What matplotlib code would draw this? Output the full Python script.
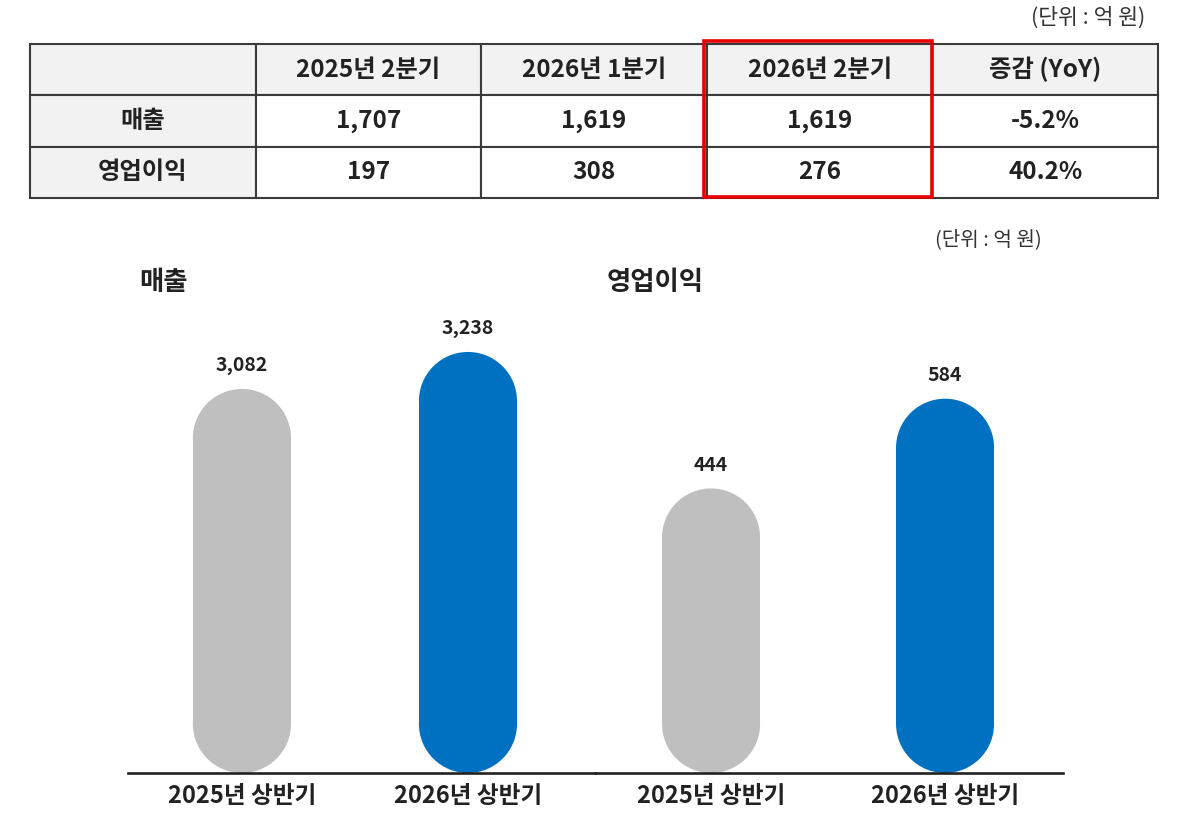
import matplotlib
matplotlib.use("Agg")
import matplotlib.pyplot as plt
from matplotlib.patches import Rectangle, Ellipse

plt.rcParams['font.family'] = ['Noto Sans CJK KR', 'DejaVu Sans']

# ---- data ----
quarters = ["2025년 2분기", "2026년 1분기", "2026년 2분기", "증감 (YoY)"]
metrics = ["매출", "영업이익"]
sales_q = ["1,707", "1,619", "1,619", "-5.2%"]
op_q = ["197", "308", "276", "40.2%"]

periods = ["2025년 상반기", "2026년 상반기"]
sales_half = [3082, 3238]
op_half = [444, 584]
bar_colors = ["#bfbfbf", "#0070c0"]

TXT = "#222222"
W, H = 1200, 821

def fx(px):
    return px / W

def fy(py):
    return 1 - py / H

fig = plt.figure(figsize=(12, 8.21), dpi=100)

# ---- background axes (pixel coordinates) for the table ----
bg = fig.add_axes([0, 0, 1, 1])
bg.set_xlim(0, W)
bg.set_ylim(H, 0)
bg.axis("off")

cell_text = [[""] + quarters, [metrics[0]] + sales_q, [metrics[1]] + op_q]
tx0, tx1, ty0, ty1 = 30, 1158, 44, 198
tbl = bg.table(cellText=cell_text, cellLoc="center",
               bbox=[fx(tx0), fy(ty1), fx(tx1) - fx(tx0), fy(ty0) - fy(ty1)])
tbl.auto_set_font_size(False)
tbl.set_fontsize(17.5)
for (r, c), cell in tbl.get_celld().items():
    cell.set_edgecolor("#3a3a3a")
    cell.set_linewidth(1.5)
    cell.set_facecolor("#f2f2f2" if (r == 0 or c == 0) else "white")
    cell.get_text().set_fontweight("bold")
    cell.get_text().set_color(TXT)

# red highlight box around the 2026 Q2 column
bg.add_patch(Rectangle((704, 41), 932 - 704, 197 - 41, fill=False,
                       edgecolor="#e60000", linewidth=2.6, zorder=10))

fig.text(fx(1145), fy(18), "(단위 : 억 원)", ha="right", va="center",
         fontsize=15.5, color="#333333")
fig.text(fx(1042), fy(240), "(단위 : 억 원)", ha="right", va="center",
         fontsize=14.5, color="#333333")

fig.text(fx(139), fy(282), "매출", ha="left", va="center", fontsize=19,
         fontweight="bold", color=TXT)
fig.text(fx(607), fy(282), "영업이익", ha="left", va="center", fontsize=19,
         fontweight="bold", color=TXT)


def pill_panel(rect_px, xlim, ylim, values, width):
    l, r, t, b = rect_px
    ax = fig.add_axes([fx(l), fy(b), fx(r) - fx(l), fy(t) - fy(b)])
    ax.set_xlim(*xlim)
    ax.set_ylim(*ylim)
    ax.patch.set_alpha(0)
    for s in ["top", "right", "left"]:
        ax.spines[s].set_visible(False)
    ax.spines["bottom"].set_color("#222222")
    ax.spines["bottom"].set_linewidth(1.9)
    ax.set_yticks([])
    xs = list(range(len(values)))
    ax.set_xticks(xs)
    ax.set_xticklabels(periods, fontsize=17, fontweight="bold", color=TXT)
    ax.tick_params(axis="x", length=0, pad=8)

    p0 = ax.transData.transform((0, 0))
    p1 = ax.transData.transform((1, 1))
    pxx, pxy = p1[0] - p0[0], p1[1] - p0[1]
    ry = (width / 2) * pxx / pxy
    base = ylim[0]
    for x, v, col in zip(xs, values, bar_colors):
        ax.add_patch(Rectangle((x - width / 2, base + ry), width, v - base - 2 * ry,
                               facecolor=col, edgecolor="none", zorder=2))
        ax.add_patch(Ellipse((x, base + ry), width, 2 * ry, facecolor=col,
                             edgecolor="none", zorder=2))
        ax.add_patch(Ellipse((x, v - ry), width, 2 * ry, facecolor=col,
                             edgecolor="none", zorder=2))
        ax.annotate(f"{v:,}", (x, v), xytext=(0, 10), textcoords="offset points",
                    ha="center", va="bottom", fontsize=14, fontweight="bold",
                    color=TXT, annotation_clip=False)
    return ax


pill_panel((128, 595, 300, 773), (-0.504, 1.562), (1463, 3457), sales_half, 0.434)
pill_panel((595, 1063, 300, 773), (-0.496, 1.504), (0, 738), op_half, 0.419)

fig.savefig("out.png", dpi=100)
